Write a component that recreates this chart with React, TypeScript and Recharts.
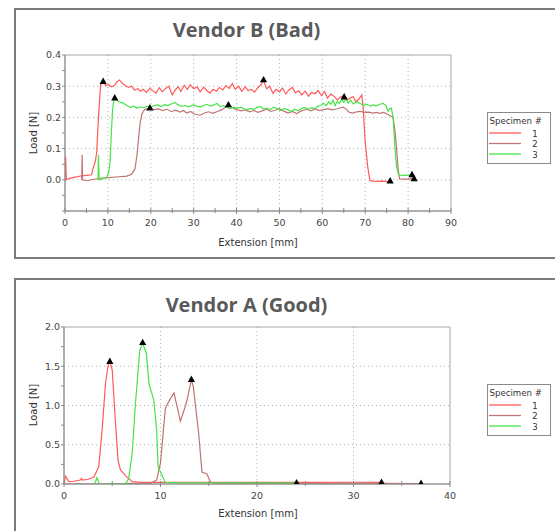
import { CartesianGrid, ComposedChart, Line, ReferenceArea, Scatter, XAxis, YAxis } from 'recharts'

type Pt = [number, number]

// Vendor B (Bad) — load [N] vs extension [mm]
const B_SPECIMEN_1: Pt[] = [
  [0, 0], [0.15, 0.074], [0.3, 0], [1, 0.004], [2, 0.008], [3, 0.01], [3.9, 0.013], [5, 0.014],
  [6.2, 0.016], [6.6, 0.04], [7.1, 0.06], [7.4, 0.09], [7.8, 0.2], [8.3, 0.305], [8.9, 0.312],
  [9.5, 0.303], [10.2, 0.305], [10.8, 0.298], [11.5, 0.302], [12.2, 0.315], [12.7, 0.32], [13.3, 0.31],
  [14, 0.302], [14.8, 0.296], [15.5, 0.3], [16.2, 0.288], [17, 0.292], [17.6, 0.283], [18.2, 0.29],
  [19, 0.28], [19.8, 0.293], [20.5, 0.285], [21.2, 0.278], [22, 0.295], [22.7, 0.282], [23.4, 0.292],
  [24.2, 0.3], [25, 0.272], [25.7, 0.288], [26.4, 0.298], [27, 0.283], [27.8, 0.303], [28.5, 0.29],
  [29.2, 0.305], [30, 0.292], [30.8, 0.298], [31.5, 0.282], [32.3, 0.297], [33, 0.287], [33.8, 0.278],
  [34.5, 0.29], [35.3, 0.284], [36, 0.296], [36.8, 0.288], [37.5, 0.302], [38.3, 0.293], [39, 0.308],
  [39.7, 0.29], [40.5, 0.3], [41.2, 0.283], [42, 0.298], [42.7, 0.286], [43.5, 0.29], [44.2, 0.281],
  [45, 0.296], [45.7, 0.305], [46.3, 0.318], [47, 0.292], [47.7, 0.3], [48.5, 0.277], [49.2, 0.29],
  [50, 0.282], [50.7, 0.294], [51.5, 0.275], [52.2, 0.288], [53, 0.296], [53.7, 0.279], [54.5, 0.285],
  [55.2, 0.272], [56, 0.284], [56.8, 0.268], [57.5, 0.28], [58.3, 0.276], [59, 0.286], [59.8, 0.27],
  [60.5, 0.283], [61.2, 0.262], [62, 0.275], [62.7, 0.268], [63.5, 0.256], [64.2, 0.265], [65, 0.27],
  [65.8, 0.255], [66.5, 0.262], [67.2, 0.267], [67.8, 0.25], [68.5, 0.258], [69.2, 0.272], [69.5, 0.235],
  [70, 0.12], [70.6, 0.04], [71.1, -0.002], [72, -0.004], [73, -0.005], [74, -0.004], [75, -0.005],
  [75.8, -0.005],
]
const B_SPECIMEN_2: Pt[] = [
  [3.9, 0], [4, 0.08], [4.1, 0], [5.1, -0.003], [6.5, 0.001], [8.2, 0.005], [10, 0.007], [12, 0.009],
  [14.4, 0.012], [15.5, 0.018], [16.3, 0.034], [16.8, 0.08], [17.1, 0.125], [17.5, 0.18], [17.9, 0.21],
  [18.6, 0.226], [19.8, 0.228], [20.8, 0.225], [21.8, 0.227], [22.8, 0.222], [23.8, 0.226], [24.8, 0.219],
  [25.8, 0.223], [26.8, 0.217], [27.6, 0.222], [28.4, 0.214], [29.3, 0.219], [30.2, 0.211], [31.5, 0.207],
  [32.5, 0.214], [33.5, 0.218], [34.5, 0.213], [35.5, 0.219], [36.5, 0.224], [37.3, 0.232], [38.1, 0.238],
  [39, 0.232], [40, 0.225], [41, 0.221], [42, 0.224], [43, 0.218], [44, 0.222], [45, 0.216], [46, 0.221],
  [47, 0.226], [48, 0.219], [49, 0.223], [50, 0.228], [51, 0.22], [52, 0.214], [53, 0.219], [54, 0.212],
  [55, 0.22], [56.3, 0.226], [57.3, 0.221], [58.3, 0.227], [59.3, 0.222], [60.3, 0.225], [61.3, 0.228],
  [62.3, 0.224], [63.3, 0.227], [64.3, 0.231], [64.8, 0.233], [65.5, 0.227], [66.3, 0.216], [67.2, 0.214],
  [68, 0.218], [68.8, 0.219], [69.8, 0.216], [70.8, 0.217], [71.8, 0.214], [72.6, 0.216], [73.4, 0.213],
  [74.3, 0.216], [75.2, 0.21], [75.8, 0.206], [76.5, 0.2], [77, 0.15], [77.3, 0.1], [77.7, 0.03],
  [78, 0.003], [79, 0.002], [80, 0.002], [80.6, 0.004], [81.4, 0.003],
]
const B_SPECIMEN_3: Pt[] = [
  [7.7, 0], [7.8, 0.08], [7.95, 0], [8.5, 0.002], [9.7, 0.008], [10.2, 0.025], [10.5, 0.055], [10.8, 0.15],
  [11.1, 0.227], [11.4, 0.255], [11.7, 0.26], [12.4, 0.252], [13, 0.248], [13.6, 0.246], [14.4, 0.238],
  [15.2, 0.232], [16, 0.236], [16.8, 0.229], [17.6, 0.234], [18.4, 0.231], [19.2, 0.236], [20, 0.232],
  [20.8, 0.238], [21.6, 0.24], [22.4, 0.235], [23.2, 0.241], [24, 0.238], [24.8, 0.243], [25.6, 0.248],
  [26.4, 0.24], [27.2, 0.235], [28, 0.238], [28.8, 0.234], [29.9, 0.24], [30.7, 0.236], [31.5, 0.233],
  [32.3, 0.238], [33.1, 0.242], [34, 0.236], [34.7, 0.24], [35.4, 0.245], [36.2, 0.235], [37, 0.238],
  [37.8, 0.232], [38.5, 0.228], [39.3, 0.233], [40.1, 0.229], [41, 0.233], [41.8, 0.227], [42.5, 0.224],
  [43.3, 0.229], [44.1, 0.226], [44.8, 0.232], [45.5, 0.235], [46.3, 0.227], [47.1, 0.23], [47.9, 0.225],
  [48.7, 0.233], [49.5, 0.228], [50.3, 0.222], [51.1, 0.229], [52, 0.224], [52.8, 0.219], [53.5, 0.226],
  [54.3, 0.221], [55.1, 0.228], [55.9, 0.232], [56.7, 0.226], [57.5, 0.231], [58.3, 0.228], [59, 0.236],
  [59.6, 0.238], [60.3, 0.245], [60.9, 0.237], [61.5, 0.25], [62, 0.242], [62.5, 0.255], [63, 0.238],
  [63.5, 0.252], [64, 0.244], [64.5, 0.258], [65, 0.248], [65.5, 0.262], [66, 0.246], [66.6, 0.255],
  [67.2, 0.243], [68, 0.25], [68.8, 0.245], [69.6, 0.238], [70.4, 0.242], [71.2, 0.236], [71.8, 0.24],
  [72.6, 0.237], [73.4, 0.242], [74.2, 0.245], [74.8, 0.238], [75.3, 0.22], [75.7, 0.228], [76.1, 0.23],
  [76.5, 0.2], [76.9, 0.11], [77.3, 0.042], [77.7, 0.02], [78.1, 0.015], [79, 0.014], [80, 0.015],
  [80.8, 0.016],
]
const B_MARKERS: Pt[] = [
  [8.9, 0.315], [46.3, 0.32], [75.8, -0.004],
  [19.8, 0.23], [38.1, 0.24], [81.4, 0.003],
  [11.6, 0.262], [65.1, 0.265], [80.9, 0.016],
]

// Vendor A (Good)
const A_SPECIMEN_1: Pt[] = [
  [0, 0], [0.15, 0.1], [0.5, 0.03], [1, 0.035], [1.7, 0.05], [1.8, 0.07], [1.9, 0.05], [2.5, 0.06],
  [3.1, 0.09], [3.6, 0.22], [3.95, 0.69], [4.3, 1.28], [4.6, 1.53], [4.75, 1.56], [5, 1.45], [5.3, 0.85],
  [5.6, 0.3], [5.85, 0.18], [6.5, 0.09], [7.1, 0.03], [8, 0.02], [10, 0.02], [15, 0.022], [20, 0.02],
  [25, 0.02], [30, 0.022], [32.9, 0.02],
]
const A_SPECIMEN_2: Pt[] = [
  [0, 0], [3, 0], [6, 0.005], [9, 0.01], [9.6, 0.05], [10, 0.27], [10.5, 0.96], [10.85, 1.05], [11.4, 1.16],
  [12.06, 0.8], [12.6, 1.0], [12.75, 1.07], [13.2, 1.33], [13.4, 1.24], [13.95, 0.65], [14.3, 0.15],
  [14.8, 0.13], [15.2, 0.02], [16, 0.01], [20, 0.01], [25, 0.008], [30, 0.008], [33, 0.008], [37, 0.005],
]
const A_SPECIMEN_3: Pt[] = [
  [3.2, 0], [3.4, 0.08], [3.7, 0], [5, 0], [6.4, 0.005], [6.7, 0.07], [7.06, 0.38], [7.4, 1.02],
  [7.85, 1.7], [8.15, 1.8], [8.54, 1.66], [8.8, 1.28], [9.3, 1.07], [9.6, 0.69], [9.75, 0.22], [10.2, 0.1],
  [10.5, 0.02], [12, 0.015], [16, 0.015], [20, 0.014], [24.1, 0.012],
]
const A_MARKERS: Pt[] = [
  [4.75, 1.56], [32.9, 0.02],
  [13.2, 1.33], [37, 0.005],
  [8.15, 1.8], [24.1, 0.012],
]

const SPECIMENS = ['1', '2', '3']
const SPECIMEN_COLORS = ['#ff5a5a', '#c27474', '#46e446']

const B_X_TICKS = [0, 5, 10, 15, 20, 25, 30, 35, 40, 45, 50, 55, 60, 65, 70, 75, 80, 85, 90]
const B_X_LABELS = [0, 10, 20, 30, 40, 50, 60, 70, 80, 90]
const B_Y_TICKS = [-0.1, -0.05, 0, 0.05, 0.1, 0.15, 0.2, 0.25, 0.3, 0.35, 0.4]
const B_Y_LABELS = [0, 0.1, 0.2, 0.3, 0.4]
const B_GRID_X = [10, 20, 30, 40, 50, 60, 70, 80]
const B_GRID_Y = [0, 0.1, 0.2, 0.3]

const A_X_TICKS = [0, 5, 10, 15, 20, 25, 30, 35, 40]
const A_X_LABELS = [0, 10, 20, 30, 40]
const A_Y_TICKS = [0, 0.25, 0.5, 0.75, 1, 1.25, 1.5, 1.75, 2]
const A_Y_LABELS = [0, 0.5, 1, 1.5, 2]
const A_GRID_X = [10, 20, 30]
const A_GRID_Y = [0.5, 1, 1.5]

const FONT = '"DejaVu Sans", Verdana, sans-serif'
const TICK_COLOR = '#444'
const AXIS_COLOR = '#8a8a8a'

const toPoints = (pts: Pt[]) => pts.map(([x, y]) => ({ x, y }))

function XTick({ x, y, payload, labels }: any) {
  const major = labels.includes(payload.value)
  return (
    <g>
      <line x1={x} x2={x} y1={y - 3} y2={y + (major ? 3 : 2)} stroke={AXIS_COLOR} />
      {major && (
        <text x={x} y={y + 15} textAnchor="middle" fontSize={9.5} fontFamily={FONT} fill={TICK_COLOR}>
          {payload.value}
        </text>
      )}
    </g>
  )
}

function YTick({ x, y, payload, labels }: any) {
  const major = labels.includes(payload.value)
  return (
    <g>
      <line x1={x - 3} x2={x} y1={y} y2={y} stroke={AXIS_COLOR} />
      {major && (
        <text x={x - 4} y={y + 3.4} textAnchor="end" fontSize={9.5} fontFamily={FONT} fill={TICK_COLOR}>
          {payload.value.toFixed(1)}
        </text>
      )}
    </g>
  )
}

const Triangle = ({ cx, cy }: any) => (
  <path d={`M${cx},${cy - 4} L${cx + 3.6},${cy + 2.4} L${cx - 3.6},${cy + 2.4} Z`} fill="#000" />
)

function SpecimenLegend({ left, top }: { left: number; top: number }) {
  return (
    <svg style={{ position: 'absolute', left, top }} width={65} height={53}>
      <rect x={0.5} y={0.5} width={63} height={51} fill="#fff" stroke="#8a8a8a" />
      <text x={2.5} y={11.5} fontSize={8.6} fontFamily={FONT} fill="#333">Specimen #</text>
      {SPECIMENS.map((s, i) => (
        <g key={s}>
          <line x1={2} x2={34} y1={21 + i * 10.5} y2={21 + i * 10.5} stroke={SPECIMEN_COLORS[i]} strokeWidth={1.3} />
          <text x={48} y={24.5 + i * 10.5} textAnchor="middle" fontSize={8.6} fontFamily={FONT} fill="#333">{s}</text>
        </g>
      ))}
    </svg>
  )
}

interface PanelChartProps {
  top: number
  height: number
  margin: { top: number; right: number; bottom: number; left: number }
  series: Pt[][]
  markers: Pt[]
  xDomain: [number, number]
  yDomain: [number, number]
  xTicks: number[]
  xLabels: number[]
  yTicks: number[]
  yLabels: number[]
  gridX: number[]
  gridY: number[]
}

function PanelChart(p: PanelChartProps) {
  return (
    <div style={{ position: 'absolute', left: 0, top: p.top }}>
      <ComposedChart width={555} height={p.height} margin={p.margin}>
        <CartesianGrid
          stroke="#b4b4b4"
          strokeDasharray="1 3"
          horizontalValues={p.gridY}
          verticalValues={p.gridX}
        />
        <ReferenceArea
          x1={p.xDomain[0]}
          x2={p.xDomain[1]}
          y1={p.yDomain[0]}
          y2={p.yDomain[1]}
          fill="none"
          stroke="#a6a6a6"
          fillOpacity={0}
        />
        <XAxis
          type="number"
          dataKey="x"
          domain={p.xDomain}
          ticks={p.xTicks}
          interval={0}
          height={30}
          tickSize={0}
          tickMargin={0}
          tickLine={false}
          stroke={AXIS_COLOR}
          tick={(props: any) => <XTick {...props} labels={p.xLabels} />}
          allowDataOverflow
        />
        <YAxis
          type="number"
          dataKey="y"
          domain={p.yDomain}
          ticks={p.yTicks}
          interval={0}
          width={40}
          tickSize={0}
          tickMargin={0}
          tickLine={false}
          stroke={AXIS_COLOR}
          tick={(props: any) => <YTick {...props} labels={p.yLabels} />}
          allowDataOverflow
        />
        {p.series.map((pts, i) => (
          <Line
            key={SPECIMENS[i]}
            data={toPoints(pts)}
            dataKey="y"
            type="linear"
            stroke={SPECIMEN_COLORS[i]}
            strokeWidth={1.2}
            dot={false}
            isAnimationActive={false}
          />
        ))}
        <Scatter data={toPoints(p.markers)} dataKey="y" shape={<Triangle />} isAnimationActive={false} />
      </ComposedChart>
    </div>
  )
}

function PanelText({ titleY, title, xLabelY, yLabelY }: { titleY: number; title: string; xLabelY: number; yLabelY: number }) {
  return (
    <>
      <text x={246.5} y={titleY} textAnchor="middle" fontSize={20} fontWeight="bold" fontFamily='"Open Sans", sans-serif' fill="#5a5a5a">
        {title}
      </text>
      <text x={258} y={xLabelY} textAnchor="middle" fontSize={10} fontFamily={FONT} fill="#333">
        Extension [mm]
      </text>
      <text
        x={0}
        y={0}
        transform={`translate(37, ${yLabelY}) rotate(-90)`}
        textAnchor="middle"
        fontSize={10}
        fontFamily={FONT}
        fill="#333"
      >
        Load [N]
      </text>
    </>
  )
}

export default function App() {
  return (
    <div style={{ position: 'absolute', left: 0, top: 0, width: 555, height: 531, overflow: 'hidden', background: '#fff' }}>
      <div style={{ position: 'absolute', left: 14, top: 8, width: 560, height: 251, border: '2px solid #7c7c7c', boxSizing: 'border-box' }} />
      <div style={{ position: 'absolute', left: 14, top: 278, width: 560, height: 270, border: '2px solid #7c7c7c', boxSizing: 'border-box' }} />

      <PanelChart
        top={0}
        height={260}
        margin={{ top: 55, right: 104, bottom: 19, left: 25 }}
        series={[B_SPECIMEN_1, B_SPECIMEN_2, B_SPECIMEN_3]}
        markers={B_MARKERS}
        xDomain={[0, 90]}
        yDomain={[-0.1, 0.4]}
        xTicks={B_X_TICKS}
        xLabels={B_X_LABELS}
        yTicks={B_Y_TICKS}
        yLabels={B_Y_LABELS}
        gridX={B_GRID_X}
        gridY={B_GRID_Y}
      />
      <PanelChart
        top={265}
        height={266}
        margin={{ top: 62, right: 105, bottom: 17, left: 24 }}
        series={[A_SPECIMEN_1, A_SPECIMEN_2, A_SPECIMEN_3]}
        markers={A_MARKERS}
        xDomain={[0, 40]}
        yDomain={[0, 2]}
        xTicks={A_X_TICKS}
        xLabels={A_X_LABELS}
        yTicks={A_Y_TICKS}
        yLabels={A_Y_LABELS}
        gridX={A_GRID_X}
        gridY={A_GRID_Y}
      />

      <svg style={{ position: 'absolute', left: 0, top: 0, pointerEvents: 'none' }} width={555} height={531}>
        <PanelText title="Vendor B (Bad)" titleY={37} xLabelY={245.5} yLabelY={133} />
        <PanelText title="Vendor A (Good)" titleY={311.5} xLabelY={516.5} yLabelY={405} />
      </svg>

      <SpecimenLegend left={487} top={112} />
      <SpecimenLegend left={487} top={384} />
    </div>
  )
}
